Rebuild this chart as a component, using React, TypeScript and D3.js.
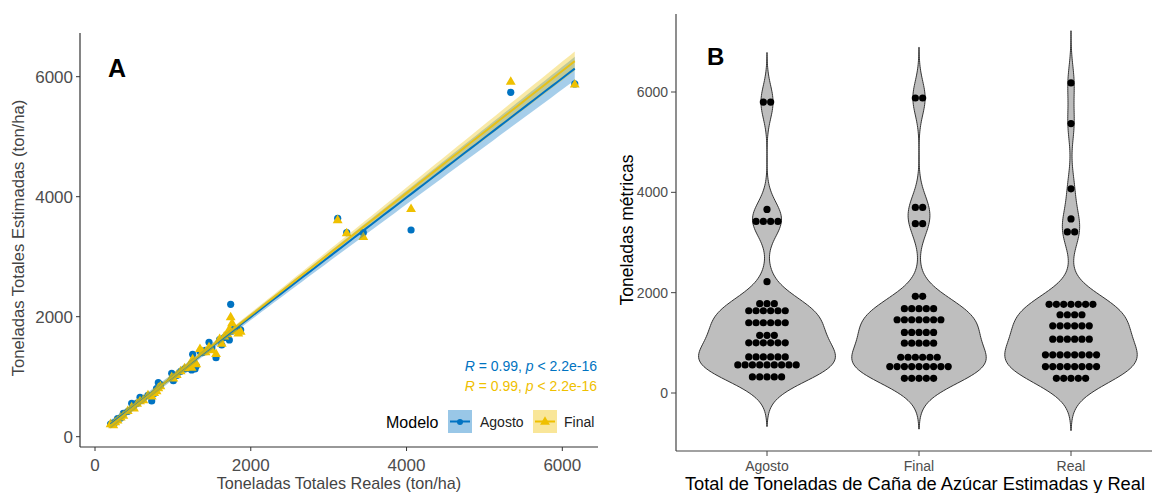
import React from "react";
import * as d3 from "d3";

// ---------- Panel A data (Real vs estimated) ----------
const realTotals = [200, 235, 260, 290, 330, 364, 420, 471, 500, 540, 578, 620, 680, 728, 760, 790, 813, 840, 985, 1006, 1050, 1100, 1150, 1200, 1241, 1254, 1284, 1300, 1348, 1380, 1420, 1464, 1500, 1554, 1600, 1627, 1660, 1700, 1725, 1742, 1760, 1790, 1840, 1870, 3116, 3232, 3445, 4058, 5338, 6160];
const agostoTotals = [210, 225, 240, 300, 310, 390, 420, 557, 530, 560, 657, 640, 690, 595, 720, 800, 900, 870, 1057, 933, 1020, 1090, 1130, 1140, 1112, 1373, 1128, 1180, 1420, 1400, 1440, 1573, 1480, 1317, 1620, 1528, 1650, 1700, 1612, 2207, 1760, 1800, 1750, 1780, 3640, 3400, 3400, 3445, 5740, 5880];
const finalTotals = [220, 200, 250, 280, 330, 360, 440, 500, 480, 560, 600, 620, 700, 680, 740, 770, 820, 850, 1000, 980, 1040, 1100, 1150, 1180, 1160, 1300, 1250, 1220, 1473, 1420, 1417, 1500, 1450, 1390, 1640, 1560, 1680, 1720, 1800, 2000, 1900, 1770, 1730, 1760, 3620, 3400, 3340, 3807, 5928, 5880];
const axisTicksA = [0, 2000, 4000, 6000];
const modelNames = ["Agosto", "Final"];
const modelColors = ["#0073C2", "#EFC000"];
const statLabel = ["R = 0.99, ", "p < 2.2e-16"];

// ---------- Panel B data (dot rows: value, count) ----------
const violinCategories = ["Agosto", "Final", "Real"];
const agostoRowValues = [5800, 3660, 3420, 2220, 1780, 1640, 1400, 1150, 1000, 720, 560, 320];
const agostoRowCounts = [2, 1, 4, 1, 3, 6, 6, 3, 6, 6, 9, 5];
const finalRowValues = [5880, 3700, 3375, 1927, 1680, 1460, 1207, 993, 713, 527, 293];
const finalRowCounts = [2, 2, 2, 2, 5, 7, 5, 5, 6, 9, 5];
const realRowValues = [6180, 5370, 4070, 3470, 3210, 1767, 1560, 1340, 1073, 760, 527, 293];
const realRowCounts = [1, 1, 1, 1, 2, 7, 4, 6, 6, 8, 8, 5];
const axisTicksB = [0, 2000, 4000, 6000];

const FONT = "'Liberation Sans', Arial, sans-serif";

function linFit(xs: number[], ys: number[]) {
  const n = xs.length;
  const mx = d3.mean(xs)!;
  const my = d3.mean(ys)!;
  let sxx = 0, sxy = 0;
  for (let i = 0; i < n; i++) {
    sxx += (xs[i] - mx) ** 2;
    sxy += (xs[i] - mx) * (ys[i] - my);
  }
  const b = sxy / sxx;
  const a = my - b * mx;
  let sse = 0;
  for (let i = 0; i < n; i++) sse += (ys[i] - (a + b * xs[i])) ** 2;
  const s = Math.sqrt(sse / (n - 2));
  const t = 2.0106;
  const lo = d3.min(xs)!, hi = d3.max(xs)!;
  const grid = d3.range(0, 81).map((i) => lo + ((hi - lo) * i) / 80);
  return grid.map((x) => {
    const yhat = a + b * x;
    const se = s * Math.sqrt(1 / n + (x - mx) ** 2 / sxx);
    return { x, y: yhat, lo: yhat - t * se, hi: yhat + t * se };
  });
}

function expand(vals: number[], counts: number[]) {
  const out: number[] = [];
  vals.forEach((v, i) => {
    for (let k = 0; k < counts[i]; k++) out.push(v);
  });
  return out;
}

function kde(values: number[]) {
  const n = values.length;
  const sorted = values.slice().sort((a, b) => a - b);
  const sd = d3.deviation(sorted)!;
  const iqr = d3.quantile(sorted, 0.75)! - d3.quantile(sorted, 0.25)!;
  const bw = 0.9 * Math.min(sd, iqr / 1.34) * Math.pow(n, -0.2);
  const lo = sorted[0] - 3 * bw, hi = sorted[n - 1] + 3 * bw;
  const grid = d3.range(0, 201).map((i) => lo + ((hi - lo) * i) / 200);
  return grid.map((y) => {
    let s = 0;
    for (const v of values) {
      const u = (y - v) / bw;
      s += Math.exp(-0.5 * u * u);
    }
    return { y, d: s / (n * bw * Math.sqrt(2 * Math.PI)) };
  });
}

function PanelA() {
  const x = d3.scaleLinear().domain([0, 6000]).range([95, 562.3]);
  const y = d3.scaleLinear().domain([0, 6000]).range([436.7, 76.7]);
  const series = [agostoTotals, finalTotals];
  const fits = series.map((s) => linFit(realTotals, s));
  const area = d3
    .area<{ x: number; lo: number; hi: number }>()
    .x((d) => x(d.x))
    .y0((d) => y(d.lo))
    .y1((d) => y(d.hi));
  const line = d3
    .line<{ x: number; y: number }>()
    .x((d) => x(d.x))
    .y((d) => y(d.y));
  const tri = d3.symbol().type(d3.symbolTriangle).size(42);
  const axL = 80, axB = 447, axT = 33, axR = 598;
  return (
    <g fontFamily={FONT}>
      {/* points */}
      {realTotals.map((r, i) => (
        <circle key={"a" + i} cx={x(r)} cy={y(agostoTotals[i])} r={3.6} fill={modelColors[0]} />
      ))}
      {realTotals.map((r, i) => (
        <path key={"f" + i} d={tri()!} transform={`translate(${x(r)},${y(finalTotals[i]) + 0.8})`} fill={modelColors[1]} />
      ))}
      {/* bands */}
      {fits.map((f, i) => (
        <path key={"b" + i} d={area(f)!} fill={modelColors[i]} fillOpacity={0.35} />
      ))}
      {fits.map((f, i) => (
        <path key={"l" + i} d={line(f)!} fill="none" stroke={modelColors[i]} strokeWidth={2} strokeOpacity={i === 1 ? 0.85 : 1} />
      ))}
      {/* axes */}
      <line x1={axL} x2={axL} y1={axT} y2={axB} stroke="#333" strokeWidth={1.2} />
      <line x1={axL} x2={axR} y1={axB} y2={axB} stroke="#333" strokeWidth={1.2} />
      {axisTicksA.map((t) => (
        <g key={"yt" + t}>
          <line x1={axL - 4} x2={axL} y1={y(t)} y2={y(t)} stroke="#333" />
          <text x={axL - 7} y={y(t)} dy="0.35em" textAnchor="end" fontSize={17} fill="#4D4D4D">
            {t}
          </text>
        </g>
      ))}
      {axisTicksA.map((t) => (
        <g key={"xt" + t}>
          <line x1={x(t)} x2={x(t)} y1={axB} y2={axB + 4} stroke="#333" />
          <text x={x(t)} y={471} textAnchor="middle" fontSize={17} fill="#4D4D4D">
            {t}
          </text>
        </g>
      ))}
      <text x={339} y={489} textAnchor="middle" fontSize={16.2} fill="#444">
        Toneladas Totales Reales (ton/ha)
      </text>
      <text transform={`translate(24,238) rotate(-90)`} textAnchor="middle" fontSize={16.6} fill="#444">
        Toneladas Totales Estimadas (ton/ha)
      </text>
      <text x={108} y={77} fontSize={25} fontWeight="bold" fill="#000">
        A
      </text>
      {/* stat labels */}
      {modelNames.map((m, i) => (
        <text key={"s" + m} x={597} y={371 + i * 19.5} textAnchor="end" fontSize={14} fill={modelColors[i]}>
          <tspan fontStyle="italic">R</tspan>
          <tspan>{statLabel[0].slice(1)}</tspan>
          <tspan fontStyle="italic">p</tspan>
          <tspan>{statLabel[1].slice(1)}</tspan>
        </text>
      ))}
      {/* legend */}
      <text x={386} y={428} fontSize={16} fill="#000">
        Modelo
      </text>
      {modelNames.map((m, i) => {
        const bx = i === 0 ? 448 : 533;
        const tx = i === 0 ? 480 : 564;
        return (
          <g key={"lg" + m}>
            <rect x={bx} y={410} width={24} height={23} fill={modelColors[i]} fillOpacity={0.4} />
            <line x1={bx + 2} x2={bx + 22} y1={421.5} y2={421.5} stroke={modelColors[i]} strokeWidth={2} />
            {i === 0 ? (
              <circle cx={bx + 12} cy={422} r={3} fill={modelColors[i]} />
            ) : (
              <path d={tri()!} transform={`translate(${bx + 12},${422})`} fill={modelColors[i]} />
            )}
            <text x={tx} y={427} fontSize={14} fill="#222">
              {m}
            </text>
          </g>
        );
      })}
    </g>
  );
}

function PanelB() {
  const y = d3.scaleLinear().domain([0, 6000]).range([393, 92]);
  const x = d3.scalePoint<string>().domain(violinCategories).range([767, 1071]);
  const rows = [
    [agostoRowValues, agostoRowCounts],
    [finalRowValues, finalRowCounts],
    [realRowValues, realRowCounts],
  ];
  const dens = rows.map(([v, c]) => kde(expand(v, c)));
  const maxD = d3.max(dens.flat(), (d) => d.d)!;
  const w = d3.scaleLinear().domain([0, maxD]).range([0, 68.4]);
  const axL = 676, axB = 451, axT = 14, axR = 1152;
  return (
    <g fontFamily={FONT}>
      {dens.map((dd, i) => {
        const cx = x(violinCategories[i])!;
        const ar = d3
          .area<{ y: number; d: number }>()
          .y((p) => y(p.y))
          .x0((p) => cx - w(p.d))
          .x1((p) => cx + w(p.d))
          .curve(d3.curveLinear);
        return <path key={"v" + i} d={ar(dd)!} fill="#BEBEBE" stroke="#333" strokeWidth={1} />;
      })}
      {rows.map(([vals, counts], i) => {
        const cx = x(violinCategories[i])!;
        return vals.map((v, j) =>
          d3.range(counts[j]).map((k) => (
            <circle
              key={`d${i}-${j}-${k}`}
              cx={cx + (k - (counts[j] - 1) / 2) * 7.3}
              cy={y(v)}
              r={3.6}
              fill="#000"
            />
          ))
        );
      })}
      <line x1={axL} x2={axL} y1={axT} y2={axB} stroke="#444" strokeWidth={1.2} />
      <line x1={axL} x2={axR} y1={axB} y2={axB} stroke="#444" strokeWidth={1.2} />
      {axisTicksB.map((t) => (
        <g key={"yb" + t}>
          <line x1={axL - 5} x2={axL} y1={y(t)} y2={y(t)} stroke="#444" />
          <text x={axL - 8} y={y(t)} dy="0.35em" textAnchor="end" fontSize={14} fill="#4D4D4D">
            {t}
          </text>
        </g>
      ))}
      {violinCategories.map((c) => (
        <g key={"xb" + c}>
          <line x1={x(c)!} x2={x(c)!} y1={axB} y2={axB + 5} stroke="#444" />
          <text x={x(c)!} y={471} textAnchor="middle" fontSize={14} fill="#4D4D4D">
            {c}
          </text>
        </g>
      ))}
      <text x={915} y={490} textAnchor="middle" fontSize={18.3} fill="#000">
        Total de Toneladas de Caña de Azúcar Estimadas y Real
      </text>
      <text transform={`translate(633,230) rotate(-90)`} textAnchor="middle" fontSize={17.5} fill="#000">
        Toneladas métricas
      </text>
      <text x={707} y={65} fontSize={24} fontWeight="bold" fill="#000">
        B
      </text>
    </g>
  );
}

export default function App() {
  return (
    <svg
      width={1152}
      height={493}
      style={{ position: "absolute", left: 0, top: 0, background: "#fff" }}
      xmlns="http://www.w3.org/2000/svg"
    >
      <rect width={1152} height={493} fill="#fff" />
      <PanelA />
      <PanelB />
    </svg>
  );
}
